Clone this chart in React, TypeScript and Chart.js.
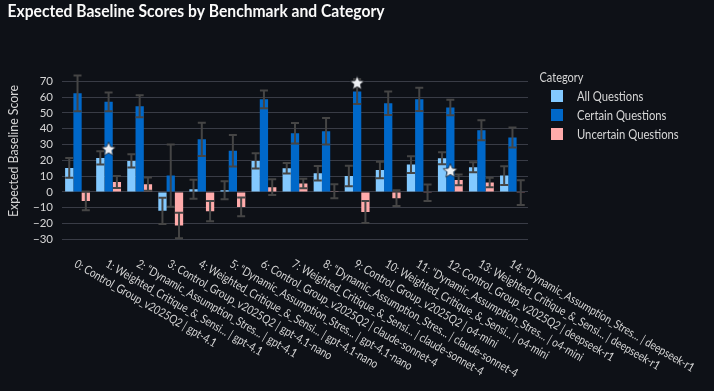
import React, { useEffect, useRef } from "react";
import { Chart, registerables } from "chart.js";

Chart.register(...registerables);

// ---------------- DATA ----------------
const categories = [
  "0: Control_Group_v2025Q2 | gpt-4.1",
  "1: Weighted_Critique_&_Sensi... | gpt-4.1",
  "2: \"Dynamic_Assumption_Stres... | gpt-4.1",
  "3: Control_Group_v2025Q2 | gpt-4.1-nano",
  "4: Weighted_Critique_&_Sensi... | gpt-4.1-nano",
  "5: \"Dynamic_Assumption_Stres... | gpt-4.1-nano",
  "6: Control_Group_v2025Q2 | claude-sonnet-4",
  "7: Weighted_Critique_&_Sensi... | claude-sonnet-4",
  "8: \"Dynamic_Assumption_Stres... | claude-sonnet-4",
  "9: Control_Group_v2025Q2 | o4-mini",
  "10: Weighted_Critique_&_Sensi... | o4-mini",
  "11: \"Dynamic_Assumption_Stres... | o4-mini",
  "12: Control_Group_v2025Q2 | deepseek-r1",
  "13: Weighted_Critique_&_Sensi... | deepseek-r1",
  "14: \"Dynamic_Assumption_Stres... | deepseek-r1",
];

const seriesNames = ["All Questions", "Certain Questions", "Uncertain Questions"];

const allQuestions = [15.2, 21.5, 19.6, -12.0, 1.7, 1.1, 19.6, 15.0, 11.8, 10.1, 13.9, 17.3, 21.3, 15.6, 10.3];
const allQuestionsErr = [6.3, 4.2, 4.2, 8.3, 6.0, 5.7, 4.8, 3.3, 4.6, 6.5, 5.2, 5.3, 3.8, 3.2, 6.0];

const certainQuestions = [62.4, 57.0, 54.2, 10.3, 33.3, 26.0, 58.6, 37.1, 38.4, 63.5, 56.1, 58.6, 53.4, 39.0, 34.4];
const certainQuestionsErr = [11.3, 6.0, 7.0, 19.7, 10.5, 10.0, 5.6, 6.5, 8.4, 7.8, 7.4, 7.4, 4.9, 6.3, 6.3];

const uncertainQuestions = [-5.7, 6.3, 4.9, -21.3, -12.2, -9.5, 3.0, 5.3, 0.4, -12.7, -4.0, -0.6, 7.6, 5.9, -0.5];
const uncertainQuestionsErr = [6.0, 3.8, 4.2, 8.1, 6.4, 6.0, 5.0, 3.0, 4.5, 7.0, 5.0, 5.2, 3.4, 3.0, 7.8];

const starMarkers = [null, 27.4, null, null, null, null, null, null, null, 69.3, null, null, 13.7, null, null];

const yTickValues = [-30, -20, -10, 0, 10, 20, 30, 40, 50, 60, 70];

const titleText = "Expected Baseline Scores by Benchmark and Category";
const yTitleText = "Expected Baseline Score";
const legendTitleText = "Category";

// ---------------- STYLE ----------------
const BG = "#0E1117";
const FONT = "Lato, 'Noto Sans', sans-serif";
const COLORS = ["#83C9FF", "#0068C9", "#FFABAB"];
const GRID = "#393c46";
const ERR = "#454545";
const TEXT = "#FAFAFA";
const TICK_TEXT = "#d6d6d6";

// Draw text at a given font size, compressing horizontally so it spans targetWidth.
function drawFitted(
  ctx: CanvasRenderingContext2D,
  text: string,
  weight: string,
  size: number,
  targetWidth: number,
  align: CanvasTextAlign
) {
  ctx.font = `${weight} ${size}px ${FONT}`;
  const w = ctx.measureText(text).width;
  const sx = targetWidth / w;
  ctx.save();
  ctx.scale(sx, 1);
  ctx.textAlign = align;
  ctx.fillText(text, 0, 0);
  ctx.restore();
}

function makeStar(r: number): HTMLCanvasElement {
  const size = 20;
  const c = document.createElement("canvas");
  c.width = size;
  c.height = size;
  const g = c.getContext("2d")!;
  const cx = size / 2;
  const cy = size / 2 + 0.8;
  g.beginPath();
  for (let i = 0; i < 10; i++) {
    const rad = i % 2 === 0 ? r : r * 0.45;
    const a = -Math.PI / 2 + (i * Math.PI) / 5;
    const px = cx + rad * Math.cos(a);
    const py = cy + rad * Math.sin(a);
    if (i === 0) g.moveTo(px, py);
    else g.lineTo(px, py);
  }
  g.closePath();
  g.fillStyle = "#eef0f4";
  g.fill();
  g.strokeStyle = "rgba(14,17,23,0.7)";
  g.lineWidth = 1;
  g.stroke();
  return c;
}

const errorBarPlugin = {
  id: "errorBars",
  afterDatasetDraw(chart: any, args: any) {
    const ds = chart.data.datasets[args.index];
    const errs: number[] | undefined = ds.errors;
    if (!errs) return;
    const yScale = chart.scales.y;
    const ctx = chart.ctx;
    ctx.save();
    ctx.strokeStyle = ERR;
    ctx.lineWidth = 2;
    args.meta.data.forEach((bar: any, i: number) => {
      const v = ds.data[i];
      const e = errs[i];
      if (v == null || e == null) return;
      const x = bar.x;
      const yl = yScale.getPixelForValue(v - e);
      const yh = yScale.getPixelForValue(v + e);
      ctx.beginPath();
      ctx.moveTo(x, yl);
      ctx.lineTo(x, yh);
      ctx.moveTo(x - 4, yl);
      ctx.lineTo(x + 4, yl);
      ctx.moveTo(x - 4, yh);
      ctx.lineTo(x + 4, yh);
      ctx.stroke();
    });
    ctx.restore();
  },
};

const overlayPlugin = {
  id: "overlay",
  afterDraw(chart: any) {
    const ctx = chart.ctx;
    const xScale = chart.scales.x;
    ctx.save();

    // Title
    ctx.fillStyle = TEXT;
    ctx.textBaseline = "alphabetic";
    ctx.save();
    ctx.translate(7.5, 17);
    drawFitted(ctx, titleText, "bold", 16.5, 377, "left");
    ctx.restore();

    // Y axis title
    ctx.save();
    ctx.translate(13, 151);
    ctx.rotate(-Math.PI / 2);
    ctx.fillStyle = TICK_TEXT;
    ctx.textBaseline = "middle";
    drawFitted(ctx, yTitleText, "normal", 14, 132, "center");
    ctx.restore();

    // X tick labels, rotated 30deg clockwise, starting at the tick
    ctx.fillStyle = TICK_TEXT;
    ctx.textBaseline = "middle";
    ctx.font = `normal 12px ${FONT}`;
    const xScaleFactor = 162 / ctx.measureText(categories[0]).width;
    categories.forEach((label, i) => {
      const x = xScale.getPixelForValue(i);
      ctx.save();
      ctx.translate(x - 2, 263);
      ctx.rotate(Math.PI / 6);
      ctx.scale(xScaleFactor, 1);
      ctx.textAlign = "left";
      ctx.fillText(label, 0, 0);
      ctx.restore();
    });

    // Legend
    ctx.fillStyle = TICK_TEXT;
    ctx.textBaseline = "middle";
    ctx.save();
    ctx.translate(539.5, 77.5);
    drawFitted(ctx, legendTitleText, "normal", 13, 44, "left");
    ctx.restore();

    ctx.font = `normal 12.5px ${FONT}`;
    const itemScale = 101.7 / ctx.measureText(seriesNames[2]).width;
    seriesNames.forEach((name, i) => {
      const cy = 96 + i * 19;
      ctx.fillStyle = COLORS[i];
      ctx.fillRect(551, cy - 6, 12, 12);
      ctx.fillStyle = TICK_TEXT;
      ctx.save();
      ctx.translate(577, cy + 0.5);
      ctx.scale(itemScale, 1);
      ctx.textAlign = "left";
      ctx.fillText(name, 0, 0);
      ctx.restore();
    });

    ctx.restore();
  },
};

export default function App() {
  const canvasRef = useRef<HTMLCanvasElement | null>(null);

  useEffect(() => {
    if (!canvasRef.current) return;
    const star = makeStar(7.5);

    const chart = new Chart(canvasRef.current, {
      type: "bar",
      data: {
        labels: categories,
        datasets: [
          {
            type: "line" as any,
            label: "best",
            data: starMarkers as any,
            showLine: false,
            pointStyle: star as any,
            pointRadius: 8,
            order: -1,
          } as any,
          {
            label: seriesNames[0],
            data: allQuestions,
            backgroundColor: COLORS[0],
            borderWidth: 0,
            errors: allQuestionsErr,
          } as any,
          {
            label: seriesNames[1],
            data: certainQuestions,
            backgroundColor: COLORS[1],
            borderWidth: 0,
            errors: certainQuestionsErr,
          } as any,
          {
            label: seriesNames[2],
            data: uncertainQuestions,
            backgroundColor: COLORS[2],
            borderWidth: 0,
            errors: uncertainQuestionsErr,
          } as any,
        ],
      },
      options: {
        responsive: false,
        animation: false,
        devicePixelRatio: 1,
        layout: { padding: { top: 68.7, right: 186, left: 0, bottom: 0 } },
        datasets: { bar: { categoryPercentage: 0.8, barPercentage: 1.0 } } as any,
        plugins: {
          legend: { display: false },
          tooltip: { enabled: false },
          title: { display: false },
        },
        scales: {
          x: {
            type: "category",
            offset: true,
            grid: { display: false },
            border: { display: false },
            ticks: { display: false },
            afterFit: (s: any) => {
              s.height = 147;
            },
          },
          y: {
            min: -33,
            max: 78,
            afterBuildTicks: (s: any) => {
              s.ticks = yTickValues.map((v) => ({ value: v }));
            },
            grid: { color: GRID, drawTicks: false, lineWidth: 1 },
            border: { display: false },
            ticks: {
              color: TICK_TEXT,
              padding: 9,
              font: { family: FONT, size: 11.5 },
              callback: (v: any) => (Number(v) < 0 ? "\u2212" + Math.abs(Number(v)) : String(v)),
            },
            afterFit: (s: any) => {
              s.width = 62;
            },
          },
        },
      },
      plugins: [errorBarPlugin, overlayPlugin],
    });

    return () => chart.destroy();
  }, []);

  return (
    <div style={{ position: "fixed", left: 0, top: 0, width: 714, height: 391, background: BG }}>
      <canvas ref={canvasRef} width={714} height={391} style={{ display: "block", width: 714, height: 391 }} />
    </div>
  );
}
